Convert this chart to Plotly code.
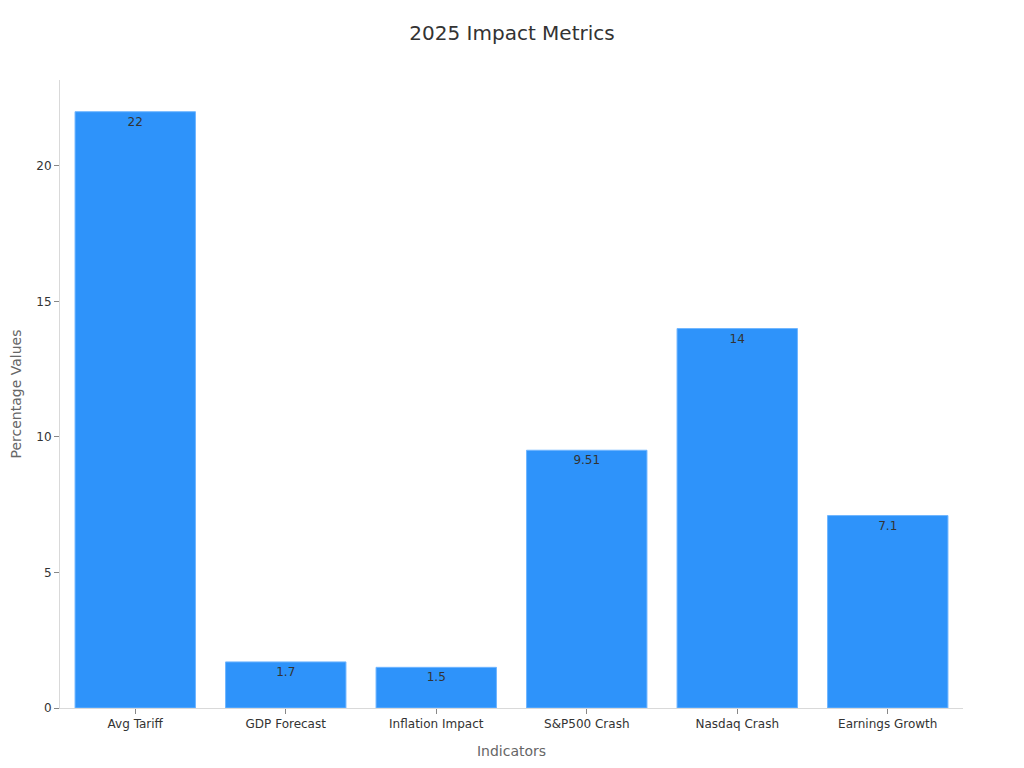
import plotly.graph_objects as go

indicators = ["Avg Tariff", "GDP Forecast", "Inflation Impact",
              "S&P500 Crash", "Nasdaq Crash", "Earnings Growth"]
values = [22, 1.7, 1.5, 9.51, 14, 7.1]
labels = ["22", "1.7", "1.5", "9.51", "14", "7.1"]

fig = go.Figure(go.Bar(
    x=indicators,
    y=values,
    text=labels,
    textposition="inside",
    insidetextanchor="end",
    textfont=dict(color="#333333", size=12),
    marker=dict(color="#2E93FA", line=dict(color="#6FB5FF", width=1)),
))

# page renders with an 8px offset, so margins are shifted to compensate
fig.update_layout(
    title=dict(text="2025 Impact Metrics", x=0.4922, xanchor="center",
               y=0.9674, yanchor="middle",
               font=dict(size=20, color="#333333")),
    font=dict(family="DejaVu Sans", color="#333333", size=12),
    width=1024, height=768,
    margin=dict(l=52, r=69, t=72, b=68),
    plot_bgcolor="white", paper_bgcolor="white",
    bargap=0.2,
    showlegend=False,
)
fig.update_xaxes(
    title=dict(text="Indicators", font=dict(size=14, color="#666666")),
    showline=True, linecolor="#d9d9d9", linewidth=1,
    ticks="outside", tickcolor="#888888", ticklen=5,
    showgrid=False, automargin=False,
)
fig.update_yaxes(
    title=dict(text="Percentage Values", font=dict(size=14, color="#666666")),
    showline=True, linecolor="#d9d9d9", linewidth=1,
    ticks="outside", tickcolor="#888888", ticklen=5,
    showgrid=False, zeroline=False, automargin=False,
    range=[0, 23.17], dtick=5,
)

fig.write_html("out.html")
